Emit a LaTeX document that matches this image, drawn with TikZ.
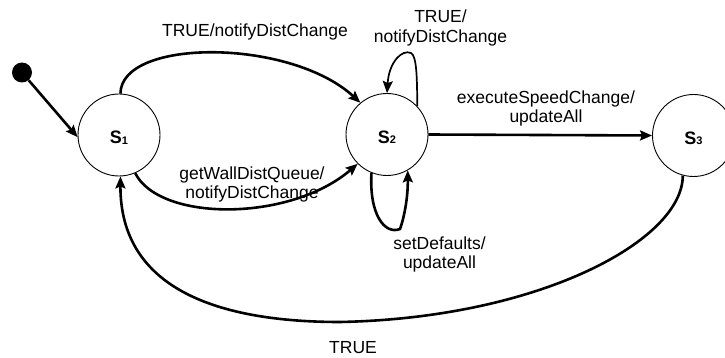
\documentclass[tikz,border=0pt]{standalone}
\usepackage{fontspec}
\setmainfont{Liberation Sans}
\usetikzlibrary{arrows.meta}
\begin{document}
\begin{tikzpicture}[x=1pt,y=-1pt,
  state/.style={circle,draw,line width=0.9pt,minimum size=82pt,inner sep=0pt,
    text height=18pt,text depth=0pt,font=\fontsize{18}{18}\selectfont\bfseries},
  initdot/.style={circle,fill=black,minimum size=20pt,inner sep=0pt},
  trans/.style={line width=2.6pt,-{Stealth[length=12pt,width=10pt,inset=2pt]}},
  thintrans/.style={line width=1.7pt,-{Stealth[length=12pt,width=10pt,inset=2pt]}},
  lbl/.style={anchor=base,inner sep=0pt,font=\fontsize{17.5}{19.5}\selectfont}]
\useasboundingbox (0,0) rectangle (725,358);
\node[state] (S1) at (119,135) {S\raisebox{-0.5pt}{\fontsize{11}{11}\selectfont 1}};
\node[state] (S2) at (387,134.5) {S\raisebox{-0.5pt}{\fontsize{11}{11}\selectfont 2}};
\node[state] (S3) at (693.5,135.5) {S\raisebox{-0.5pt}{\fontsize{11}{11}\selectfont 3}};
\node[initdot] (init) at (22,72.5) {};
\draw[trans] (init) -- (S1.183);
\draw[trans] (S1.88) .. controls (121,38) and (290,38) .. (S2.130);
\draw[trans] (S1.293) .. controls (160,222) and (290,222) .. (S2.225);
\draw[thintrans] (S2.43) .. controls (417,80) and (417,56) .. (411,53) .. controls (402,49) and (389,62) .. (S2.90);
\draw[trans] (S2.248) .. controls (369,215) and (385,235) .. (400,229) .. controls (405,215) and (408,195) .. (S2.300);
\draw[trans] (S2.east) -- (S3.west);
\draw[trans] (S3.255) .. controls (683,240) and (540,318) .. (340,322) .. controls (220,322) and (120,290) .. (S1.272);
\node[lbl] (l1) at (255,36.7) {TRUE/notifyDistChange};
\node[lbl] (l2) at (252,179.5) {\begin{tabular}[t]{@{}c@{}}getWallDistQueue/\\notifyDistChange\end{tabular}};
\node[lbl] (l3) at (440.5,22.7) {\begin{tabular}[t]{@{}c@{}}TRUE/\\notifyDistChange\end{tabular}};
\node[lbl] (l4) at (546,103.3) {\begin{tabular}[t]{@{}c@{}}executeSpeedChange/\\updateAll\end{tabular}};
\node[lbl] (l5) at (439.5,249) {\begin{tabular}[t]{@{}c@{}}setDefaults/\\updateAll\end{tabular}};
\node[lbl] (l6) at (353,353) {TRUE};
\end{tikzpicture}
\end{document}
